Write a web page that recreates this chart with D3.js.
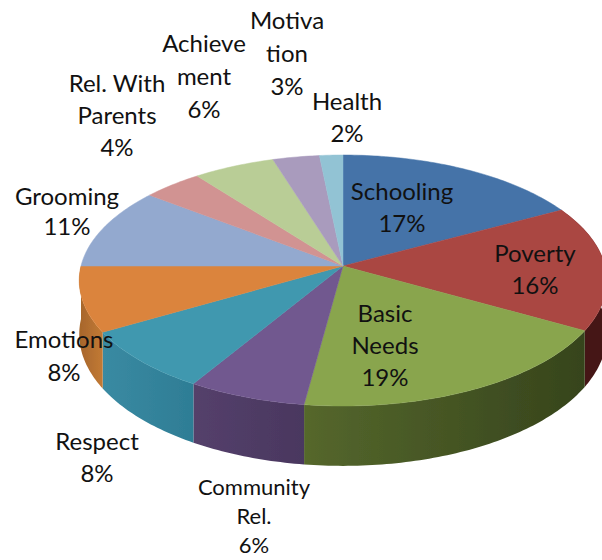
<!DOCTYPE html>
<html>
<head>
<meta charset="utf-8">
<script src="https://cdn.jsdelivr.net/npm/d3@7"></script>
<style>
html, body { margin: 0; padding: 0; background: #fff; overflow: hidden; }
text { font-family: Lato, "Open Sans", sans-serif; fill: #111; }
</style>
</head>
<body>
<div id="chart"></div>
<script>
const categories = ["Schooling", "Poverty", "Basic Needs", "Community Rel.", "Respect", "Emotions",
    "Grooming", "Rel. With Parents", "Achievement", "Motivation", "Health"];
// slice sizes, the printed labels are rounded
const shares = [17.1, 16.1, 18.9, 6.5, 8.0, 8.4, 10.5, 4.1, 5.6, 3.2, 1.6];
const percentLabels = ["17%", "16%", "19%", "6%", "8%", "8%", "11%", "4%", "6%", "3%", "2%"];
// how each category name breaks over lines
const nameLines = [["Schooling"], ["Poverty"], ["Basic", "Needs"], ["Community", "Rel."], ["Respect"], ["Emotions"],
    ["Grooming"], ["Rel. With", "Parents"], ["Achieve", "ment"], ["Motiva", "tion"], ["Health"]];
const topColors = ["#4473a8", "#aa4643", "#89a54e", "#71588f", "#4198af", "#db843d",
    "#93a9cf", "#d19392", "#b9cd96", "#a99bbd", "#92c3d4"];
const wallColors = [null, ["#5a1f1d", "#451715"], ["#36441c", "#55672c"], ["#4a375f", "#54406b"],
    ["#2e7d95", "#3a8aa2"], ["#c27a35", "#a8672c"], null, null, null, null, null];

const width = 602;
const height = 560;

// label layout: centre x, first baseline, line step
const labelSpots = [[402, 200, 32], [535, 262, 32], [385, 322, 32], [254, 495, 29], [97, 450, 32], [64, 348, 33],
    [67, 205, 30], [117, 92, 32], [204, 52, 33], [287, 29, 33], [347, 110, 32]];

// perspective view of the disc
const center = { x: 343, y: 266 };
const radiusX = 262;
const radiusZ = 123.8;
const perspective = 0.1155;
const depth = 53;

function project(angle, drop) {
    const z = Math.cos(angle);
    const s = 1 / (1 + perspective * z);
    return [center.x + radiusX * Math.sin(angle) * s,
            center.y - radiusZ * z * s + (drop || 0) * s];
}

function rim(a0, a1, drop) {
    const n = Math.max(2, Math.ceil((a1 - a0) * 60));
    return d3.range(n + 1).map(i => project(a0 + (a1 - a0) * i / n, drop));
}

const line = d3.line();

const arcs = d3.pie().sort(null).value(d => d)(shares);

const svg = d3.select("#chart")
    .append("svg")
    .attr("width", width)
    .attr("height", height);

const defs = svg.append("defs");
defs.append("filter").attr("id", "soft")
    .append("feGaussianBlur").attr("stdDeviation", 0.5);

const pieGroup = svg.append("g").attr("filter", "url(#soft)");

// side walls first, the top face hides what faces backwards
arcs.forEach((d, i) => {
    if (!wallColors[i]) return;
    const grad = defs.append("linearGradient")
        .attr("id", "wall" + i)
        .attr("gradientUnits", "userSpaceOnUse")
        .attr("x1", project(d.startAngle)[0]).attr("x2", project(d.endAngle)[0])
        .attr("y1", 0).attr("y2", 0);
    grad.append("stop").attr("offset", 0).attr("stop-color", wallColors[i][0]);
    grad.append("stop").attr("offset", 1).attr("stop-color", wallColors[i][1]);

    const pts = rim(d.startAngle, d.endAngle, 0)
        .concat(rim(d.startAngle, d.endAngle, depth).reverse());
    pieGroup.append("path")
        .attr("d", line(pts) + "Z")
        .attr("fill", `url(#wall${i})`);
});

pieGroup.selectAll("path.slice")
    .data(arcs)
    .join("path")
    .attr("class", "slice")
    .attr("d", d => line([[center.x, center.y]].concat(rim(d.startAngle, d.endAngle, 0))) + "Z")
    .attr("fill", (d, i) => topColors[i])
    .attr("stroke", (d, i) => topColors[i])
    .attr("stroke-width", 0.5);

// data labels
const labels = svg.append("g").attr("text-anchor", "middle");
categories.forEach((c, i) => {
    const spot = labelSpots[i];
    const small = c === "Community Rel.";
    const text = labels.append("text")
        .attr("font-size", small ? 22 : 24);
    nameLines[i].concat(percentLabels[i]).forEach((t, j) => {
        text.append("tspan")
            .attr("x", spot[0])
            .attr("y", spot[1] + j * spot[2])
            .text(t);
    });
});
</script>
</body>
</html>
